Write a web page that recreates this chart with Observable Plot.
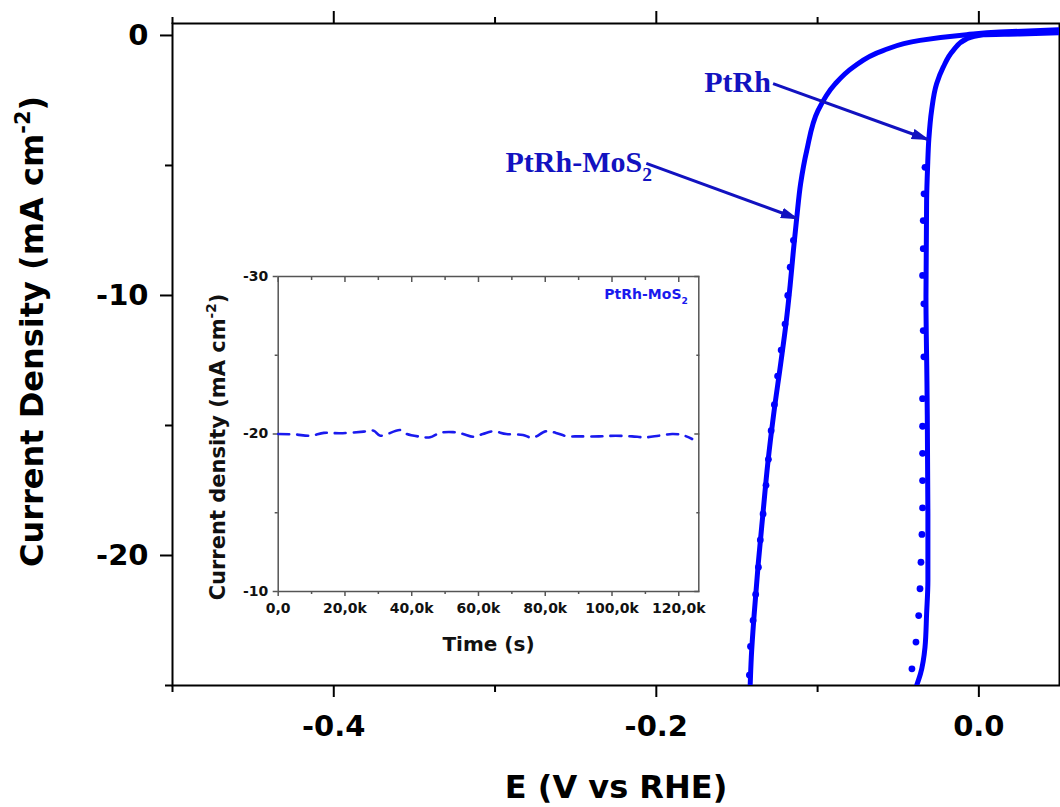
<!DOCTYPE html>
<html><head><meta charset="utf-8">
<script src="https://cdn.jsdelivr.net/npm/d3@7"></script>
<script src="https://cdn.jsdelivr.net/npm/@observablehq/plot@0.6"></script>
<style>
body{margin:0;background:#fff;}
#chart{position:relative;width:1060px;height:807px;overflow:hidden;}
#chart svg{position:absolute;}
</style></head><body><div id="chart"></div>
<script>
// ---- Main LSV data: [E (V vs RHE), j (mA cm^-2)] ----
const mosLine = [[0.0495,0.22],[0.013,0.13],[-0.0076,0.03],[-0.0365,-0.19],[-0.0594,-0.58],[-0.078,-1.22],[-0.0891,-1.86],[-0.0997,-2.88],[-0.1067,-4.42],[-0.1105,-5.69],[-0.1129,-6.99],[-0.115,-8.27],[-0.117,-9.6],[-0.1196,-11.09],[-0.1229,-12.63],[-0.1272,-14.55],[-0.1309,-16.47],[-0.1339,-18.4],[-0.1368,-20.32],[-0.1393,-22.24],[-0.1411,-23.91],[-0.1418,-25]];
const mosDots = [[-0.115,-7.88],[-0.117,-8.91],[-0.1185,-10.0],[-0.1202,-11.1],[-0.1226,-12.1],[-0.1248,-13.1],[-0.1268,-14.2],[-0.1288,-15.2],[-0.1305,-16.3],[-0.132,-17.3],[-0.1338,-18.4],[-0.1355,-19.4],[-0.1367,-20.45],[-0.1384,-21.5],[-0.14,-22.5],[-0.1416,-23.5],[-0.1423,-24.6]];
const ptrhLine = [[0.0495,0.1],[0.0254,0.06],[0.0027,0.03],[-0.0076,-0.13],[-0.0159,-0.58],[-0.0221,-1.22],[-0.0262,-1.86],[-0.0293,-2.88],[-0.031,-3.97],[-0.0318,-5.07],[-0.0324,-6.35],[-0.0328,-10.07],[-0.0322,-13.27],[-0.0316,-18.4],[-0.0316,-20.96],[-0.0324,-22.24],[-0.0334,-23.53],[-0.0362,-24.55],[-0.0386,-25]];
const ptrhDots = [[-0.0334,-5.07],[-0.034,-6.09],[-0.0345,-7.12],[-0.0345,-8.2],[-0.0349,-9.23],[-0.0341,-10.32],[-0.0345,-11.35],[-0.0341,-12.36],[-0.0349,-13.97],[-0.0349,-15.03],[-0.0349,-16.07],[-0.0349,-17.12],[-0.0349,-18.17],[-0.0353,-19.19],[-0.0359,-20.26],[-0.0365,-21.28],[-0.0373,-22.31],[-0.039,-23.33],[-0.0415,-24.36]];

// ---- Inset chronoamperometry: [time (s), j (mA cm^-2)] ----
const stability = [[0,-20.0],[5000,-19.97],[9700,-19.89],[13700,-20.07],[18600,-20.05],[25600,-20.15],[28600,-20.21],[30600,-19.89],[36500,-20.25],[38500,-20.0],[42500,-19.83],[45500,-19.79],[48400,-20.07],[52400,-20.12],[55400,-20.0],[58400,-19.83],[61300,-20.0],[64300,-20.17],[68300,-20.0],[73300,-19.94],[76200,-19.76],[80200,-20.17],[83200,-20.07],[86200,-19.87],[90200,-19.85],[96100,-19.85],[101100,-19.89],[106000,-19.85],[110000,-19.79],[114000,-19.89],[118000,-20.0],[121000,-19.94],[124000,-19.68]];

// ---- Ticks & labels ----
const xMajorTicks = [-0.4, -0.2, 0.0];
const xMajorLabels = ["-0.4", "-0.2", "0.0"];
const xMinorTicks = [-0.5, -0.3, -0.1];
const yMajorTicks = [0, -10, -20];
const yMajorLabels = ["0", "-10", "-20"];
const yMinorTicks = [-5, -15, -25];
const insetXTicks = [0, 20000, 40000, 60000, 80000, 100000, 120000];
const insetXLabels = ["0,0", "20,0k", "40,0k", "60,0k", "80,0k", "100,0k", "120,0k"];
const insetXMinor = [10000, 30000, 50000, 70000, 90000, 110000];
const insetYTicks = [-30, -20, -10];
const insetYLabels = ["-30", "-20", "-10"];
const insetYMinor = [-25, -15];

// ---- Annotations (anchored in data units) ----
const annotations = [
  {x: -0.1703, y: -1.346, label: "PtRh"},
  {x: -0.2935, y: -4.42, label: "PtRh-MoS_{2}"}
];
const arrows = [
  {x1: -0.1276, y1: -1.85, x2: -0.0316, y2: -4.0},
  {x1: -0.2062, y1: -4.92, x2: -0.1127, y2: -7.04}
];

const curveColor = "#0000ff";
const annColor = "#1212c0";
const insetColor = "#1a1aee";
const sans = "'DejaVu Sans', 'Liberation Sans', sans-serif";
const lab = (ticks, labels) => d => labels[ticks.indexOf(d)];
const px = d => d[0], py = d => d[1];

const main = Plot.plot({
  width: 1060, height: 807,
  marginLeft: 172, marginRight: 1, marginTop: 23, marginBottom: 122,
  style: {fontFamily: sans, background: "transparent", overflow: "visible"},
  x: {domain: [-0.5, 0.05], label: null},
  y: {domain: [-25, 0.46], label: null},
  marks: [
    Plot.axisX({ticks: xMajorTicks, anchor: "bottom", tickSize: 12, tickPadding: 18, strokeWidth: 2, tickFormat: lab(xMajorTicks, xMajorLabels), fontSize: 29, fontWeight: "bold", fill: "#000", stroke: "#000", label: null}),
    Plot.axisX({ticks: xMinorTicks, anchor: "bottom", tickSize: 7, strokeWidth: 2, fill: "none", stroke: "#000", label: null}),
    Plot.axisX({ticks: xMajorTicks, anchor: "top", tickSize: 13, strokeWidth: 2, fill: "none", stroke: "#000", label: null}),
    Plot.axisX({ticks: xMinorTicks, anchor: "top", tickSize: 7, strokeWidth: 2, fill: "none", stroke: "#000", label: null}),
    Plot.axisY({ticks: yMajorTicks, anchor: "left", tickSize: 12, tickPadding: 12, strokeWidth: 2, tickFormat: lab(yMajorTicks, yMajorLabels), fontSize: 29, fontWeight: "bold", fill: "#000", stroke: "#000", label: null}),
    Plot.axisY({ticks: yMinorTicks, anchor: "left", tickSize: 7, strokeWidth: 2, fill: "none", stroke: "#000", label: null}),
    Plot.frame({stroke: "#000", strokeWidth: 2}),
    Plot.line(mosLine, {x: px, y: py, stroke: curveColor, strokeWidth: 5, curve: "monotone-y", clip: true}),
    Plot.line(ptrhLine, {x: px, y: py, stroke: curveColor, strokeWidth: 5, curve: "monotone-y", clip: true}),
    Plot.dot(mosDots, {x: px, y: py, r: 3.4, fill: curveColor, clip: true}),
    Plot.dot(ptrhDots, {x: px, y: py, r: 3.4, fill: curveColor, clip: true}),
    Plot.link(arrows, {x1: "x1", y1: "y1", x2: "x2", y2: "y2", stroke: annColor, strokeWidth: 3}),
    Plot.text(annotations, {x: "x", y: "y", text: "label", textAnchor: "start", lineAnchor: "top", fill: annColor, fontFamily: "'Liberation Serif', 'Times New Roman', serif", fontWeight: "bold", fontSize: 30}),
    Plot.text(["E (V vs RHE)"], {text: d => d, frameAnchor: "bottom", textAnchor: "middle", lineAnchor: "top", dy: 90, fontSize: 32, fontWeight: "bold", fill: "#000"}),
    Plot.text(["Current Density (mA cm^{-2})"], {text: d => d, frameAnchor: "left", textAnchor: "middle", rotate: -90, lineAnchor: "top", dx: -152, dy: -23, fontSize: 32, fontWeight: "bold", fill: "#000"})
  ]
});

const inset = Plot.plot({
  width: 545, height: 410,
  marginLeft: 107.7, marginRight: 16.7, marginTop: 16, marginBottom: 79,
  style: {fontFamily: sans, background: "transparent", overflow: "visible"},
  x: {domain: [0, 126000], label: null},
  y: {domain: [-10, -30], label: null},
  marks: [
    Plot.axisX({ticks: insetXTicks, anchor: "bottom", tickSize: 5, tickPadding: 7, strokeWidth: 1.5, stroke: "#555", tickFormat: lab(insetXTicks, insetXLabels), fontSize: 14, fontWeight: "bold", fill: "#111", label: null}),
    Plot.axisX({ticks: insetXMinor, anchor: "bottom", tickSize: 3, strokeWidth: 1.5, stroke: "#555", fill: "none", label: null}),
    Plot.axisX({ticks: insetXTicks, anchor: "top", tickSize: -5, strokeWidth: 1.5, stroke: "#555", fill: "none", label: null}),
    Plot.axisX({ticks: insetXMinor, anchor: "top", tickSize: -3, strokeWidth: 1.5, stroke: "#555", fill: "none", label: null}),
    Plot.axisY({ticks: insetYTicks, anchor: "left", tickSize: 5, tickPadding: 5, strokeWidth: 1.5, stroke: "#555", tickFormat: lab(insetYTicks, insetYLabels), fontSize: 14, fontWeight: "bold", fill: "#111", label: null}),
    Plot.axisY({ticks: insetYMinor, anchor: "left", tickSize: 3, strokeWidth: 1.5, stroke: "#555", fill: "none", label: null}),
    Plot.axisY({ticks: insetYTicks, anchor: "right", tickSize: -5, strokeWidth: 1.5, stroke: "#555", fill: "none", label: null}),
    Plot.axisY({ticks: insetYMinor, anchor: "right", tickSize: -3, strokeWidth: 1.5, stroke: "#555", fill: "none", label: null}),
    Plot.frame({stroke: "#555", strokeWidth: 1.5}),
    Plot.line(stability, {x: px, y: py, stroke: insetColor, strokeWidth: 2.6, strokeDasharray: "11,8", curve: "catmull-rom"}),
    Plot.text(["PtRh-MoS_{2}"], {text: d => d, frameAnchor: "top-right", textAnchor: "end", lineAnchor: "top", dx: -11, dy: 13, fill: insetColor, fontSize: 14, fontWeight: "bold"}),
    Plot.text(["Time (s)"], {text: d => d, frameAnchor: "bottom", textAnchor: "middle", lineAnchor: "top", dy: 45, fontSize: 20, fontWeight: "bold", fill: "#111"}),
    Plot.text(["Current density (mA cm^{-2})"], {text: d => d, frameAnchor: "left", textAnchor: "middle", rotate: -90, lineAnchor: "top", dx: -68, dy: 13, fontSize: 21, fontWeight: "bold", fill: "#111"})
  ]
});

const chart = document.getElementById("chart");
main.style.left = "0px"; main.style.top = "0px";
inset.style.left = "170px"; inset.style.top = "260px";
chart.appendChild(main);
chart.appendChild(inset);

// superscripts / subscripts written as ^{..} and _{..}
function richText(svg) {
  d3.select(svg).selectAll("text").each(function () {
    const s = this.textContent;
    if (!/[\^_]\{/.test(s)) return;
    const fs = parseFloat(getComputedStyle(this).fontSize) || 16;
    const sel = d3.select(this);
    sel.text(null);
    const re = /([\^_])\{([^}]*)\}/g;
    let last = 0, cur = 0, m;
    const add = (txt, target, small) => {
      const t = sel.append("tspan").text(txt);
      const dy = target - cur;
      if (dy) t.attr("dy", dy);
      if (small) t.attr("font-size", fs * 0.65);
      cur = target;
    };
    while ((m = re.exec(s))) {
      if (m.index > last) add(s.slice(last, m.index), 0, false);
      add(m[2], m[1] === "^" ? -0.42 * fs : 0.3 * fs, true);
      last = re.lastIndex;
    }
    if (last < s.length) add(s.slice(last), 0, false);
  });
}
richText(main);
richText(inset);

// filled arrow heads on the annotation links
const ms = d3.select(main);
ms.append("defs").html(`<marker id="ahead" viewBox="0 0 10 6" refX="9" refY="3" markerWidth="6" markerHeight="3.6" orient="auto" markerUnits="strokeWidth"><path d="M0,0L10,3L0,6Z" fill="${annColor}"/></marker>`);
ms.selectAll('g[aria-label="link"] path').attr("marker-end", "url(#ahead)");
</script>
</body></html>
